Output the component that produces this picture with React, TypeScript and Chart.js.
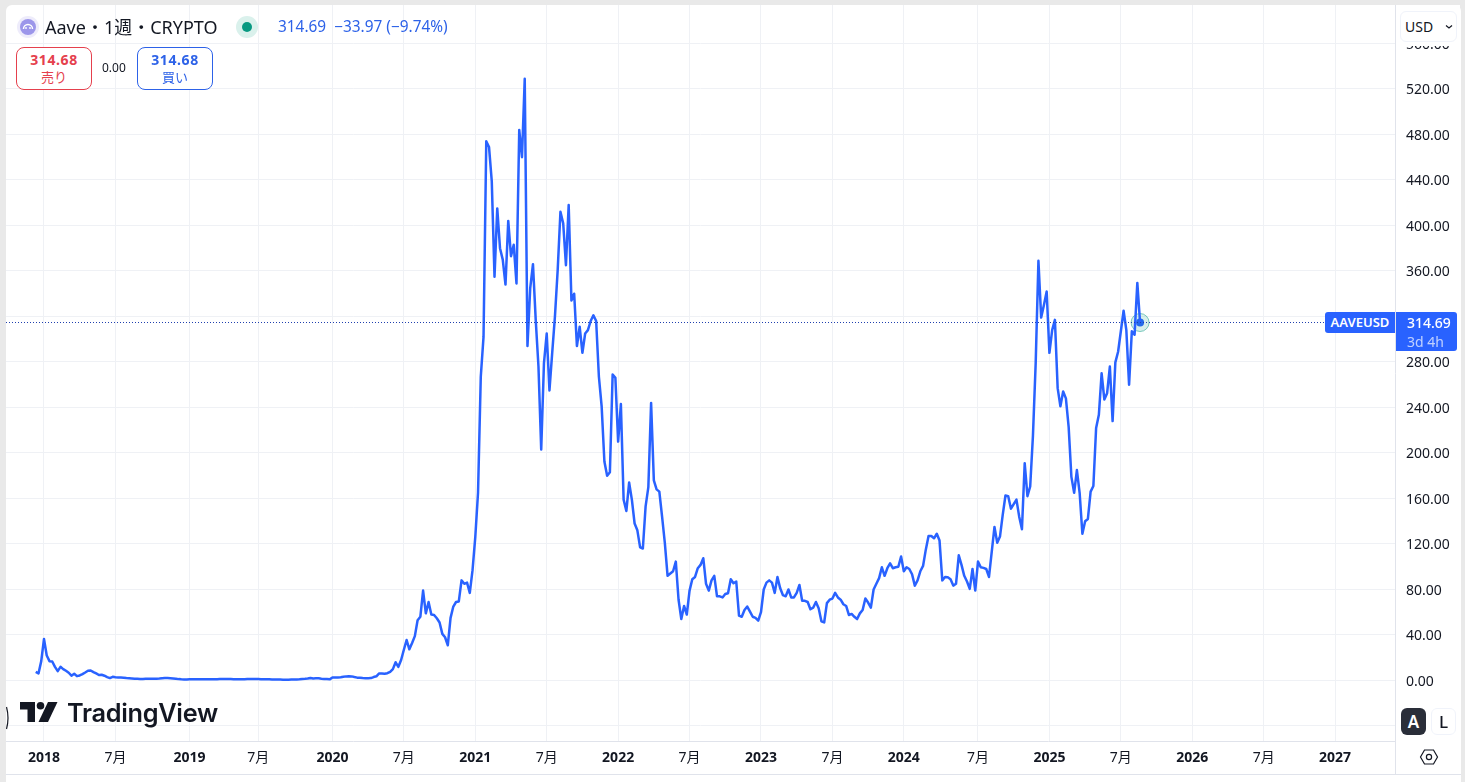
import React, { useEffect, useRef } from 'react';
import { Chart, registerables } from 'chart.js';

Chart.register(...registerables);

// weekly bars, week 0 is the first bar of 2018
const firstWeek = -3;
const weeklyClose = [
  7.6, 6.2, 17, 36.5, 22, 17, 16.7, 12, 8.2, 12, 10, 8.5, 6.8, 4.2, 5.9, 3.8, 4.4, 5.6, 7, 8.5, 8.8, 7.4, 6.2, 4.8, 5, 4.2, 3, 2.1, 3.2, 2.8,
  2.7, 2.6, 2.5, 2.2, 2.0, 1.8, 1.6, 1.5, 1.4, 1.4, 1.5, 1.5, 1.5, 1.6, 1.6, 1.7, 1.9, 2.1, 2.1, 2.0, 1.8, 1.5, 1.2, 1.0, 0.9, 0.9,
  1.0, 1.0, 1.0, 1.0, 1.0, 1.1, 1.1, 1.1, 1.0, 1.0, 1.1, 1.2, 1.3, 1.3, 1.2, 1.2, 1.1, 1.1, 1.0, 1.0, 1.1, 1.2, 1.3, 1.3, 1.2, 1.2,
  1.1, 1.1, 1.0, 1.0, 0.9, 0.8, 0.8, 0.8, 0.7, 0.7, 0.7, 0.8, 0.8, 0.9, 1.1, 1.4, 1.5, 1.7, 2.2, 1.8, 1.9, 1.9, 1.6, 1.4, 1.2, 1.0,
  2.6, 2.7, 2.6, 2.8, 3.2, 3.6, 3.7, 3.6, 3.0, 2.5, 2.4, 2.1, 2.0, 2.0, 2.1,
  3, 3.7, 6.2, 6.2, 6, 6.4, 7.6, 10, 16, 12, 18, 27, 35.6, 27.4, 33, 39, 53, 56, 79, 59, 69, 58, 57.6, 54.7, 51, 41, 38, 31, 55, 65, 69, 69.5, 88, 85, 86, 77, 97, 126, 165, 267, 302,
  474, 469, 439, 355, 415, 380, 370, 348, 404, 373, 383, 349, 484, 460, 529, 294, 345, 366, 317, 276, 203, 279, 305, 255, 288, 320, 361, 412, 402, 365, 418, 334, 340, 294, 311, 288, 305, 308, 316, 321, 316, 267, 241,
  192.5, 180, 183, 269, 266, 210, 243, 159, 149, 174, 159, 138, 132, 117, 116, 153, 170, 244, 176, 168, 166, 144, 121, 92, 94, 96, 104.5, 71, 54, 65.5, 58, 79, 89, 91, 98.7, 101.6, 107.5,
  85, 79, 88, 92, 74, 74, 73, 76, 76.7, 89, 85.5, 87, 57, 56, 62, 65, 60.5, 56, 55, 52.6, 60, 80, 86, 88, 86, 77, 91, 81, 75, 74, 80, 73, 73, 77, 84, 70, 70, 69, 62.6, 64, 69, 63.5, 52, 51, 68, 71,
  72, 77, 73, 71, 67, 65.5, 57.6, 58.5, 56, 54, 59, 62, 72, 68.5, 64, 80, 85, 90, 99.5, 92, 98.7, 103, 98.7, 99.5, 100, 109, 96, 99.5, 98, 93.4, 83.4, 88, 96, 100.7, 115, 127, 127, 125, 129, 123,
  88, 91, 90.7, 89, 83.4, 85, 110, 101.6, 92, 87, 80.5, 98, 79, 104.5, 99.5, 99, 98, 91, 113, 135, 121, 126.5, 145.6, 162.6, 162, 151, 155, 159, 144, 133, 191, 162, 170.5,
  215, 279, 369, 319, 330, 342, 288, 308, 317, 257, 241, 254, 248, 223, 179, 165, 185, 165, 129, 140, 142, 166, 171, 222, 233.6, 270, 247, 252.6, 276, 228, 279.6, 289, 307, 325, 308, 260, 307, 304, 349.5, 314.69,
];
const lastPrice = 314.69;

const xTickWeeks = [0, 26, 53, 78, 105, 131, 157, 183, 209, 235, 261, 287, 313, 340, 366, 392, 418, 444, 470];
const xTickLabels = ['2018', '7月', '2019', '7月', '2020', '7月', '2021', '7月', '2022', '7月', '2023', '7月', '2024', '7月', '2025', '7月', '2026', '7月', '2027'];
const yTickValues = [-40, 0, 40, 80, 120, 160, 200, 240, 280, 320, 360, 400, 440, 480, 520, 560];

const FONT = '"Noto Sans", "Noto Sans CJK JP", sans-serif';
const GRID = '#eff1f5';
const AXIS = '#e0e3eb';
const BLUE = '#2962ff';
const XMIN = -13.83;
const XMAX = 491.8;

const box = (l: number, t: number, w: number, h: number): React.CSSProperties => ({
  position: 'absolute', left: l, top: t, width: w, height: h, boxSizing: 'border-box',
});

// no extra room for the outermost tick labels, the plot area is fixed
const noMargins = (s: any) => {
  s.paddingLeft = 0;
  s.paddingRight = 0;
  s.paddingTop = 0;
  s.paddingBottom = 0;
};

function TradeButton({ left, color, price, label }: { left: number; color: string; price: string; label: string }) {
  return (
    <div style={{ ...box(left, 47, 76, 43), border: `1px solid ${color}`, borderRadius: 8, background: '#fff', color, textAlign: 'center' }}>
      <div style={{ fontSize: 14, fontWeight: 700, letterSpacing: 0.6, lineHeight: '19px', marginTop: 2 }}>{price}</div>
      <div style={{ fontSize: 13, lineHeight: '17px' }}>{label}</div>
    </div>
  );
}

export default function App() {
  const canvasRef = useRef<HTMLCanvasElement | null>(null);

  useEffect(() => {
    document.body.style.margin = '0';
    const chart = new Chart(canvasRef.current!, {
      type: 'line',
      data: {
        datasets: [
          {
            data: [{ x: XMIN, y: lastPrice }, { x: XMAX, y: lastPrice }],
            borderColor: '#1f3fae',
            borderWidth: 1,
            borderDash: [1, 2],
            pointRadius: 0,
          },
          {
            data: weeklyClose.map((y, i) => ({ x: firstWeek + i, y })),
            borderColor: BLUE,
            borderWidth: 2.5,
            borderJoinStyle: 'round',
            tension: 0,
            pointRadius: 0,
          },
          {
            // pulse ring and dot on the last bar
            data: [{ x: firstWeek + weeklyClose.length - 1, y: lastPrice }],
            pointRadius: 9,
            pointBackgroundColor: 'rgba(8,153,129,0.16)',
            pointBorderColor: 'rgba(8,153,129,0.5)',
            pointBorderWidth: 1,
            showLine: false,
          },
          {
            data: [{ x: firstWeek + weeklyClose.length - 1, y: lastPrice }],
            pointRadius: 4,
            pointBackgroundColor: BLUE,
            pointBorderWidth: 0,
            showLine: false,
          },
        ],
      },
      options: {
        animation: false,
        responsive: false,
        layout: { autoPadding: false, padding: { left: 6, top: 5, right: 5, bottom: 8 } },
        plugins: { legend: { display: false }, tooltip: { enabled: false } },
        scales: {
          x: {
            type: 'linear',
            min: XMIN,
            max: XMAX,
            afterBuildTicks: (s: any) => { s.ticks = xTickWeeks.map((value) => ({ value })); },
            afterFit: (s: any) => { s.height = 33; noMargins(s); },
            grid: { color: GRID, tickLength: 0 },
            border: { color: AXIS },
            ticks: {
              autoSkip: false,
              maxRotation: 0,
              padding: 9,
              color: '#131722',
              font: (c: any) => ({
                family: FONT,
                size: 14,
                weight: xTickLabels[xTickWeeks.indexOf(c.tick?.value)]?.endsWith('月') ? 400 : 700,
              }),
              callback: (v: any) => xTickLabels[xTickWeeks.indexOf(v)] ?? '',
            },
          },
          y: {
            type: 'linear',
            position: 'right',
            min: -53.2,
            max: 593.8,
            afterBuildTicks: (s: any) => { s.ticks = yTickValues.map((value) => ({ value })); },
            afterFit: (s: any) => { s.width = 65; noMargins(s); },
            grid: { color: GRID, tickLength: 0 },
            border: { color: AXIS },
            ticks: {
              padding: 11,
              color: '#131722',
              // the blank first line with a 3px line height pushes the label 1.5px down
              font: { family: FONT, size: 14, lineHeight: '3px' },
              callback: (v: any) => (v < 0 ? '' : ['', Number(v).toFixed(2)]),
            },
          },
        },
      },
    });
    return () => chart.destroy();
  }, []);

  return (
    <div style={{ position: 'relative', width: 1465, height: 782, background: '#e9e9e9', overflow: 'hidden', fontFamily: FONT, color: '#131722' }}>
      <div style={{ ...box(6, 5, 1455, 777), background: '#fff', borderRadius: '6px 6px 0 0' }} />
      <canvas ref={canvasRef} width={1465} height={782} style={{ position: 'absolute', left: 0, top: 0 }} />

      {/* axis frame under the time scale */}
      <div style={{ ...box(1395, 741, 1, 33), background: AXIS }} />
      <div style={{ ...box(6, 774, 1455, 1), background: AXIS }} />

      {/* header */}
      <svg style={box(17, 16, 22, 22)} viewBox="0 0 22 22">
        <circle cx="11" cy="11" r="11" fill="#eeecfb" />
        <circle cx="11" cy="11" r="8" fill="#9c96ea" />
        <path d="M6.5 13 A4.5 4.5 0 0 1 15.5 13" fill="none" stroke="#fff" strokeWidth="1.5" />
        <circle cx="9" cy="12" r="0.9" fill="#fff" />
        <circle cx="13" cy="12" r="0.9" fill="#fff" />
      </svg>
      <div style={{ position: 'absolute', left: 45, top: 15, fontSize: 18, lineHeight: '24px', whiteSpace: 'nowrap' }}>Aave・1週・CRYPTO</div>
      <svg style={box(236, 16, 22, 22)} viewBox="0 0 22 22">
        <circle cx="11" cy="11" r="11" fill="#daf1ec" />
        <circle cx="11" cy="11" r="5" fill="#089981" />
      </svg>
      <div style={{ position: 'absolute', left: 278, top: 17, fontSize: 15.4, lineHeight: '20px', color: '#2d62e8', whiteSpace: 'pre' }}>314.69  −33.97 (−9.74%)</div>
      <TradeButton left={16} color="#e5404d" price="314.68" label="売り" />
      <div style={{ position: 'absolute', left: 102, top: 59, fontSize: 12, lineHeight: '18px' }}>0.00</div>
      <TradeButton left={137} color="#2d62e8" price="314.68" label="買い" />

      {/* currency picker */}
      <div style={{ ...box(1396, 5, 64, 41), background: '#fff' }} />
      <div style={{ ...box(1400, 11, 57, 31), border: '1px solid #f0f3fa', borderRadius: 6, fontSize: 14, lineHeight: '29px', paddingLeft: 4 }}>USD</div>
      <svg style={box(1445, 24, 8, 6)} viewBox="0 0 8 6"><path d="M1 1.5 L4 4 L7 1.5" fill="none" stroke="#131722" strokeWidth="1.2" /></svg>

      {/* last price labels */}
      <div style={{ ...box(1325, 312, 70, 21), background: BLUE, color: '#fff', borderRadius: '3px 0 0 3px', fontSize: 13, fontWeight: 600, lineHeight: '21px', textAlign: 'center' }}>AAVEUSD</div>
      <div style={{ ...box(1396, 312, 61, 39), background: BLUE, color: '#fff', borderRadius: '0 3px 3px 0', fontSize: 14, lineHeight: '19px', paddingTop: 1, paddingLeft: 11 }}>
        <div style={{ fontWeight: 500 }}>314.69</div>
        <div style={{ color: 'rgba(255,255,255,0.7)' }}>3d 4h</div>
      </div>

      {/* logo */}
      <svg style={box(20, 702, 38, 21)} viewBox="0 0 38 21">
        <path d="M0 0 H15 V20 H7.5 V7.5 H0 Z" fill="#131722" />
        <circle cx="20.5" cy="3.8" r="3.8" fill="#131722" />
        <path d="M28 0 H37.5 L28 20 H18.5 Z" fill="#131722" />
      </svg>
      <div style={{ position: 'absolute', left: 67, top: 697, fontFamily: 'Inter, sans-serif', fontSize: 25.3, fontWeight: 600, lineHeight: '32px', letterSpacing: -0.3, whiteSpace: 'nowrap' }}>TradingView</div>
      <svg style={box(6, 706, 4, 24)} viewBox="0 0 4 24"><path d="M0.5 1 Q3.5 12 0.5 23" fill="none" stroke="#131722" strokeWidth="1.2" /></svg>

      {/* auto / log buttons and settings */}
      <div style={{ ...box(1401, 708, 25, 27), background: '#2a2e39', color: '#fff', borderRadius: 6, fontSize: 17, fontWeight: 600, lineHeight: '27px', textAlign: 'center' }}>A</div>
      <div style={{ ...box(1431, 708, 25, 27), background: '#fff', border: '1px solid #f0f3fa', borderRadius: 6, fontSize: 17, fontWeight: 500, lineHeight: '25px', textAlign: 'center' }}>L</div>
      <svg style={box(1419, 747, 20, 20)} viewBox="0 0 20 20">
        <path d="M1.5 10 L5.5 3 H14.5 L18.5 10 L14.5 17 H5.5 Z" fill="none" stroke="#131722" strokeWidth="1.2" />
        <circle cx="10" cy="10" r="2.6" fill="none" stroke="#131722" strokeWidth="1.2" />
      </svg>
    </div>
  );
}
